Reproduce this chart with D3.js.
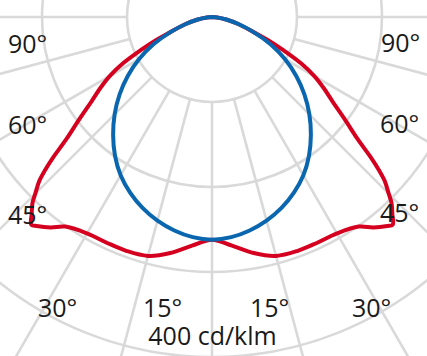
<!DOCTYPE html>
<html>
<head>
<meta charset="utf-8">
<script src="https://cdn.jsdelivr.net/npm/d3@7"></script>
<style>
  html, body { margin: 0; padding: 0; background: #fff; }
  svg { display: block; }
  text { font-family: "Open Sans", sans-serif; font-size: 25px; fill: #1a1a1a; }
</style>
</head>
<body>
<svg id="chart"></svg>
<script>
// luminous intensity, cd/klm, per angle from nadir (symmetric, drawn on both sides)
var redAngles = [0, 5, 10, 15, 20, 25, 30, 35, 37.5, 40, 41, 42.5, 44, 45, 46.5, 47.5, 48.5, 50, 52.5, 55, 57.5, 60, 62.5, 65, 67.5, 70, 75, 80, 85, 90];
var redValues = [262, 270, 282, 291, 293, 293, 294, 301, 312, 321, 324, 314, 304, 294, 280, 266, 250, 224, 196, 173, 156, 139, 118, 93, 72, 52, 32, 17, 6, 0];

var blueAngles = [0, 5, 10, 15, 20, 25, 30, 35, 40, 45, 50, 55, 60, 65, 70, 75, 80, 85, 90];
var blueValues = [262, 260, 255, 248, 239, 228, 215, 199, 181, 162, 142, 121, 99, 76, 52, 32, 17, 6, 0];

var gridValues = [100, 200, 300, 400];
var gridAngles = [0, 15, 30, 45, 60, 75, 90, 105, 120, 135, 150, 165, 180];

var labels = ['90°', '60°', '45°', '30°', '15°', '15°', '30°', '45°', '60°', '90°'];
var unitLabel = '400 cd/klm';

var width = 427;
var height = 356;
var cx = 212;
var cy = 17;

var r = d3.scaleLinear().domain([0, 400]).range([0, 340]);
var rad = d => d * Math.PI / 180;

var svg = d3.select('#chart')
    .attr('width', width)
    .attr('height', height);

var g = svg.append('g')
    .attr('transform', 'translate(' + cx + ',' + cy + ')');

// grid
var grid = g.append('g')
    .attr('fill', 'none')
    .attr('stroke', '#d9d9d9')
    .attr('stroke-width', 2.6);

grid.selectAll('circle')
    .data(gridValues)
    .enter()
    .append('circle')
        .attr('r', d => r(d));

var spokes = [];
gridAngles.forEach(function(a) {
    spokes.push(a);
    if (a !== 0 && a !== 180) spokes.push(-a);
});

grid.selectAll('line')
    .data(spokes)
    .enter()
    .append('line')
        .attr('x1', d => r(100) * Math.sin(rad(d)))
        .attr('y1', d => r(100) * Math.cos(rad(d)))
        .attr('x2', d => r(600) * Math.sin(rad(d)))
        .attr('y2', d => r(600) * Math.cos(rad(d)));

// curves
function mirror(angles, values) {
    var pts = [];
    for (let i = angles.length - 1; i > 0; i--) pts.push({a: -angles[i], v: values[i]});
    for (let i = 0; i < angles.length; i++) pts.push({a: angles[i], v: values[i]});
    return pts;
}

var line = d3.lineRadial()
    .angle(d => Math.PI - rad(d.a))
    .radius(d => r(d.v))
    .curve(d3.curveCatmullRom.alpha(0.5));

g.append('path')
    .datum(mirror(redAngles, redValues))
    .attr('fill', 'none')
    .attr('stroke', '#d5001f')
    .attr('stroke-width', 4)
    .attr('stroke-linejoin', 'round')
    .attr('d', line);

g.append('path')
    .datum(mirror(blueAngles, blueValues))
    .attr('fill', 'none')
    .attr('stroke', '#0a66ae')
    .attr('stroke-width', 4)
    .attr('stroke-linejoin', 'round')
    .attr('d', line);

// labels
var labelPos = [[8, 53], [8, 134], [8, 224], [38, 317], [143, 317],
                [250, 317], [352, 317], [380, 222], [380, 133], [381, 52]];

svg.selectAll('.angle-label')
    .data(labels)
    .enter()
    .append('text')
        .classed('angle-label', true)
        .attr('x', (d, i) => labelPos[i][0])
        .attr('y', (d, i) => labelPos[i][1])
        .text(d => d);

svg.append('text')
    .attr('x', cx + 0.5)
    .attr('y', 345)
    .attr('text-anchor', 'middle')
    .text(unitLabel);
</script>
</body>
</html>
